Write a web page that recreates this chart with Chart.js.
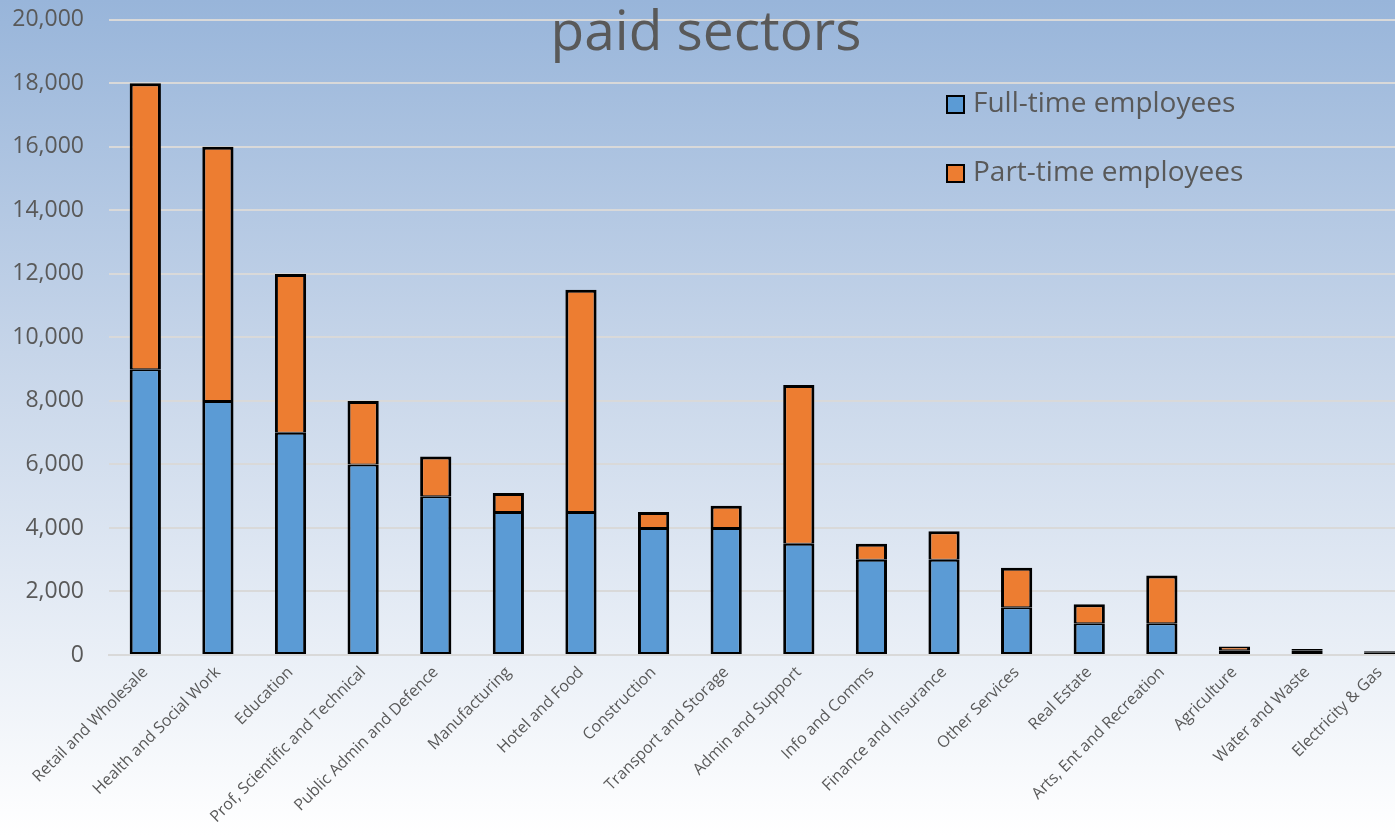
<!DOCTYPE html>
<html>
<head>
<meta charset="utf-8">
<script src="https://cdn.jsdelivr.net/npm/chart.js@4.4.1/dist/chart.umd.min.js"></script>
<style>
html,body{margin:0;padding:0;}
body{width:1395px;height:836px;overflow:hidden;position:relative;background:linear-gradient(to bottom,#98b5da 0%,#c9d7ea 45%,#ffffff 100%);}
#wrap{position:absolute;left:0;top:-19px;width:1416px;height:855px;}
</style>
</head>
<body>
<div id="wrap"><canvas id="c" width="1416" height="855"></canvas></div>
<script>
const categories = ["Retail and Wholesale","Health and Social Work","Education","Prof, Scientific and Technical","Public Admin and Defence","Manufacturing","Hotel and Food","Construction","Transport and Storage","Admin and Support","Info and Comms","Finance and Insurance","Other Services","Real Estate","Arts, Ent and Recreation","Agriculture","Water and Waste","Electricity & Gas"];
const fullTime = [9000,8000,7000,6000,5000,4500,4500,4000,4000,3500,3000,3000,1500,1000,1000,150,130,70];
const partTime = [9000,8000,5000,2000,1250,600,7000,500,700,5000,500,900,1250,600,1500,120,60,50];
const seriesNames = ["Full-time employees","Part-time employees"];
const seriesColors = ["#5b9bd5","#ed7d31"];
const titleText = "paid sectors";
const yTicks = [0,2000,4000,6000,8000,10000,12000,14000,16000,18000,20000];

const FONT = "'Open Sans', sans-serif";
const TXT = "#595959";
const OY = 19; // canvas is shifted up by this many pixels

const overlay = {
  id: 'overlay',
  afterDraw(chart) {
    const ctx = chart.ctx;
    ctx.save();
    ctx.fillStyle = TXT;
    ctx.font = "55px " + FONT;
    ctx.textAlign = "center";
    ctx.textBaseline = "alphabetic";
    ctx.fillText(titleText, 706, 50 + OY);
    // legend
    ctx.font = "28px " + FONT;
    ctx.textAlign = "left";
    ctx.textBaseline = "middle";
    const ys = [104, 173];
    for (let i = 0; i < seriesNames.length; i++) {
      const y = ys[i] + OY;
      ctx.fillStyle = seriesColors[i];
      ctx.fillRect(947, y - 8, 17, 17);
      ctx.strokeStyle = "#000";
      ctx.lineWidth = 2;
      ctx.strokeRect(947, y - 8, 17, 17);
      ctx.fillStyle = TXT;
      ctx.fillText(seriesNames[i], 973, y);
    }
    ctx.restore();
  }
};

new Chart(document.getElementById('c'), {
  type: 'bar',
  data: {
    labels: categories,
    datasets: [
      {label: seriesNames[0], data: fullTime, backgroundColor: seriesColors[0], borderColor: '#000',
       borderWidth: {left: 3, right: 3, bottom: 2, top: 2}, borderSkipped: false},
      {label: seriesNames[1], data: partTime, backgroundColor: seriesColors[1], borderColor: '#000',
       borderWidth: {left: 3, right: 3, bottom: 1, top: 3}, borderSkipped: false}
    ]
  },
  options: {
    responsive: false,
    animation: false,
    devicePixelRatio: 1,
    layout: {padding: 0},
    datasets: {bar: {barPercentage: 0.43, categoryPercentage: 1}},
    plugins: {legend: {display: false}, title: {display: false}, tooltip: {enabled: false}},
    scales: {
      x: {
        stacked: true,
        grid: {display: false, drawTicks: false},
        border: {display: true, color: '#d9d9d9', width: 2},
        ticks: {color: TXT, font: {family: FONT, size: 16}, maxRotation: 45, minRotation: 45, padding: 8, autoSkip: false},
        afterFit(s) { s.height = 181; }
      },
      y: {
        stacked: true,
        min: 0, max: 20000,
        afterBuildTicks(s) { s.ticks = yTicks.map(v => ({value: v})); },
        grid: {color: '#d9d9d9', lineWidth: 2, drawTicks: false},
        border: {display: false},
        ticks: {color: TXT, font: {family: FONT, size: 23}, padding: 25,
          callback: v => v.toLocaleString('en-US')},
        afterFit(s) { s.width = 109; }
      }
    }
  },
  plugins: [overlay]
});
</script>
</body>
</html>
